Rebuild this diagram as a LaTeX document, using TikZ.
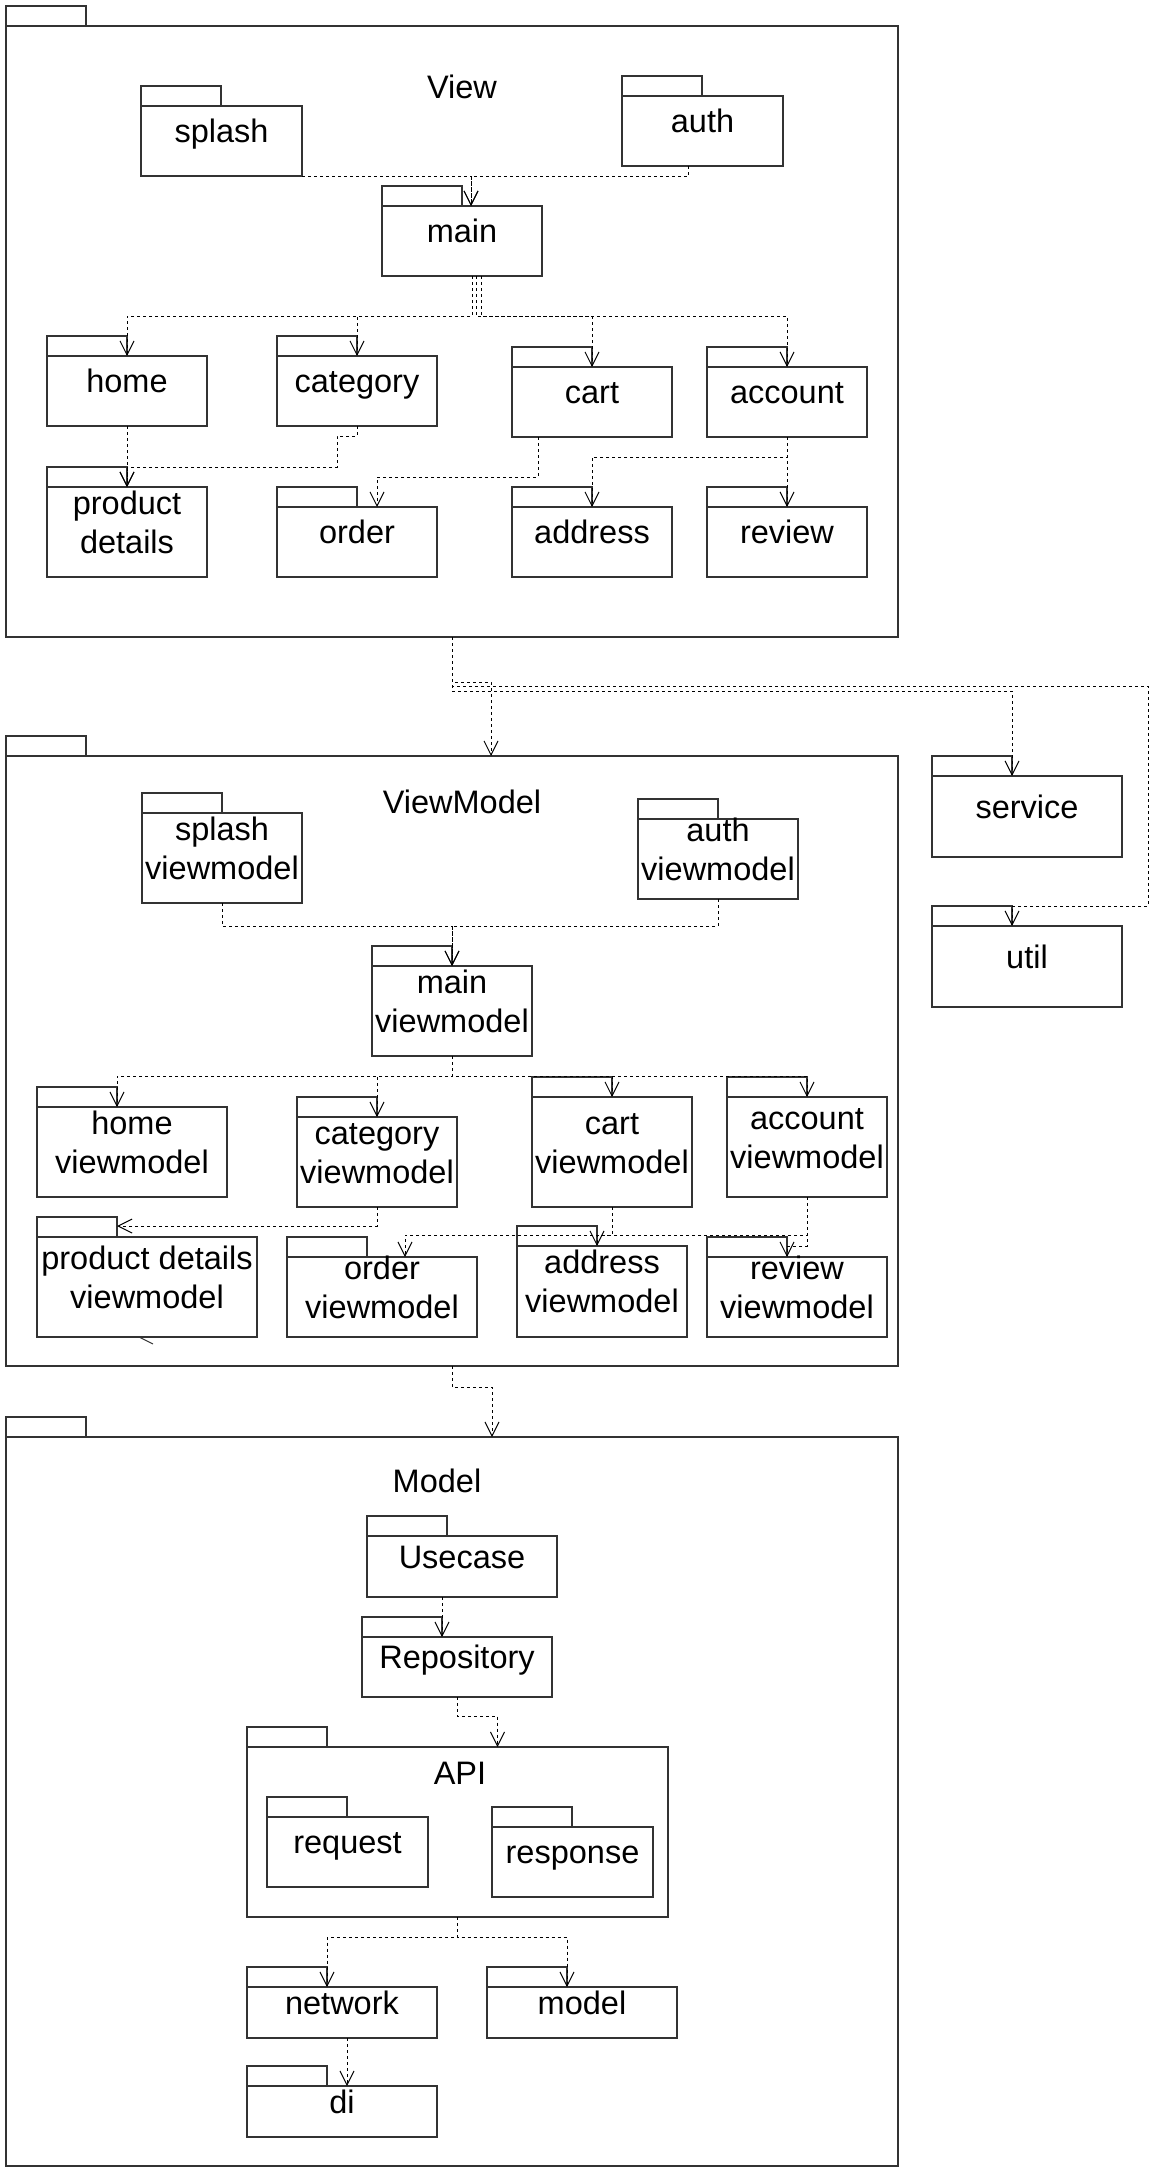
\documentclass[tikz,border=0pt]{standalone}
\usepackage{fontspec}
\setmainfont{Liberation Sans}
\usetikzlibrary{arrows.meta}

\newcommand{\pkgstrut}{\rule[-7.4pt]{0pt}{38.4pt}}
\tikzset{
  pkgbody/.style={draw=black!80,line width=2pt,anchor=north west,inner sep=0pt,outer sep=0pt},
  pkgline/.style={draw=black!80,line width=2pt},
  pkgtext/.style={font=\fontsize{32.5}{39}\selectfont,align=center,inner sep=0pt},
  dep/.style={black,line width=1pt,dash pattern=on 3pt off 3pt,-{Straight Barb[length=14pt,width=14pt]}},
}

% package frame: name, left, body top, width, height
\newcommand{\pkgbox}[5]{%
  \node[pkgbody,minimum width=#4pt,minimum height=#5pt] (#1) at (#2,#3) {};
  \draw[pkgline] (#1.north west) rectangle ++(80,-20);
  \coordinate (#1-tab) at ([xshift=80pt]#1.north west);
}
% package with its name in the middle
\newcommand{\pkg}[6]{%
  \pkgbox{#1}{#2}{#3}{#4}{#5}
  \node[pkgtext] (#1-txt) at ([yshift=10pt]#1.center) {\pkgstrut#6\pkgstrut};
}

\begin{document}
\begin{tikzpicture}[x=1pt,y=-1pt]
\useasboundingbox (0,0) rectangle (1169,2173);

% View
\pkgbox{viewpkg}{6}{26}{892}{611}
\node[pkgtext] (viewpkg-txt) at (462,87) {\pkgstrut View};
\pkg{splash}{141}{106}{161}{70}{splash}
\pkg{auth}{622}{96}{161}{70}{auth}
\pkg{main}{382}{206}{160}{70}{main}
\pkg{home}{47}{356}{160}{70}{home}
\pkg{category}{277}{356}{160}{70}{category}
\pkg{cart}{512}{367}{160}{70}{cart}
\pkg{account}{707}{367}{160}{70}{account}
\pkg{prod}{47}{487}{160}{90}{product\\details}
\pkg{order}{277}{507}{160}{70}{order}
\pkg{address}{512}{507}{160}{70}{address}
\pkg{review}{707}{507}{160}{70}{review}

\draw[dep] (splash.south east) -| ([xshift=9pt]main.north);
\draw[dep] ([xshift=-14pt]auth.south) -- ++(0,10) -| ([xshift=9pt]main.north);
\draw[dep] ([xshift=10pt]main.south) -- ++(0,40) -| (home-tab);
\draw[dep] ([xshift=10pt]main.south) -- ++(0,40) -| (category-tab);
\draw[dep] ([xshift=14pt]main.south) -- ++(0,40) -| (cart-tab);
\draw[dep] ([xshift=19pt]main.south) -- ++(0,40) -| (account-tab);
\draw[dep] (home-tab |- home.south) -- (prod-tab);
\draw[dep] (category-tab |- category.south) -- ++(0,10) -- ++(-20,0) |- ([yshift=20pt]prod-tab) -- (prod-tab);
\draw[dep] ([xshift=-54pt]cart.south) -- ++(0,40) -| ([xshift=20pt]order-tab);
\draw[dep] (account.south) -- ++(0,20) -| (address-tab);
\draw[dep] (account.south) -- (review-tab);

% service and util
\pkg{service}{932}{776}{190}{81}{service}
\pkg{util}{932}{926}{190}{81}{util}

% ViewModel
\pkgbox{vmpkg}{6}{756}{892}{610}
\node[pkgtext] (vmpkg-txt) at (462,802) {\pkgstrut ViewModel};
\pkg{splashvm}{142}{813}{160}{90}{splash\\viewmodel}
\pkg{authvm}{638}{819}{160}{80}{auth\\viewmodel}
\pkg{mainvm}{372}{966}{160}{90}{main\\viewmodel}
\pkg{homevm}{37}{1107}{190}{90}{home\\viewmodel}
\pkg{categoryvm}{297}{1117}{160}{90}{category\\viewmodel}
\pkg{cartvm}{532}{1097}{160}{110}{cart\\viewmodel}
\pkg{accountvm}{727}{1097}{160}{100}{account\\viewmodel}
\pkg{prodvm}{37}{1237}{220}{100}{product details\\viewmodel}
\pkg{ordervm}{287}{1257}{190}{80}{order\\viewmodel}
\pkg{addressvm}{517}{1246}{170}{91}{address\\viewmodel}
\pkg{reviewvm}{707}{1257}{180}{80}{review\\viewmodel}

\draw[dep] (viewpkg.south) -- ++(0,45) -| ([xshift=39pt]vmpkg.north);
\draw[dep] (viewpkg.south) -- ++(0,54) -| (service-tab);
\draw[dep] (viewpkg.south) -- ++(0,49) -| ([shift={(26pt,20pt)}]util.north east) -| (util-tab);

\draw[dep] (splashvm.south) |- ([yshift=40pt]mainvm.north) -- (mainvm.north);
\draw[dep] (authvm.south) |- ([yshift=40pt]mainvm.north) -- (mainvm.north);
\draw[dep] (mainvm.south) -- ++(0,20) -| (homevm-tab);
\draw[dep] (mainvm.south) -- ++(0,20) -| (categoryvm-tab);
\draw[dep] (mainvm.south) -- ++(0,20) -| (cartvm-tab);
\draw[dep] (mainvm.south) -- ++(0,20) -| (accountvm-tab);
\draw[dep] (categoryvm-tab |- categoryvm.south) -- ++(0,19) -- ([yshift=11pt]prodvm-tab);
\draw[dep] (accountvm-tab |- accountvm.south) -- ++(0,38) -| ([xshift=38pt]ordervm-tab);
\draw[dep] (cartvm-tab |- cartvm.south) -- ++(0,28) -| (addressvm-tab);
\draw[dep] (accountvm-tab |- accountvm.south) -- ++(0,49) -| (reviewvm-tab);
\draw[black!80,line width=1pt] (139,1337) -- (153,1344);

% Model
\pkgbox{modelpkg}{6}{1437}{892}{729}
\node[pkgtext] (modelpkg-txt) at (437,1481) {\pkgstrut Model};
\pkg{usecase}{367}{1536}{190}{61}{Usecase}
\pkg{repo}{362}{1637}{190}{60}{Repository}
\pkgbox{apipkg}{247}{1747}{421}{170}
\node[pkgtext] (apipkg-txt) at (460,1773) {\pkgstrut API};
\pkg{request}{267}{1817}{161}{70}{request}
\pkg{response}{492}{1827}{161}{70}{response}
\pkg{network}{247}{1987}{190}{51}{network}
\pkg{model}{487}{1987}{190}{51}{model}
\pkg{di}{247}{2086}{190}{51}{di}

\draw[dep] (vmpkg.south) -- ++(0,21) -| ([xshift=40pt]modelpkg.north);
\draw[dep] (usecase.south -| repo-tab) -- (repo-tab);
\draw[dep] (repo.south) -- ++(0,19) -| ([xshift=40pt]apipkg.north);
\draw[dep] (apipkg.south) -- ++(0,20) -| (network-tab);
\draw[dep] (apipkg.south) -- ++(0,20) -| (model-tab);
\draw[dep] ([xshift=5pt]network.south) -- ([xshift=5pt]network.south |- di.north);
\end{tikzpicture}
\end{document}
